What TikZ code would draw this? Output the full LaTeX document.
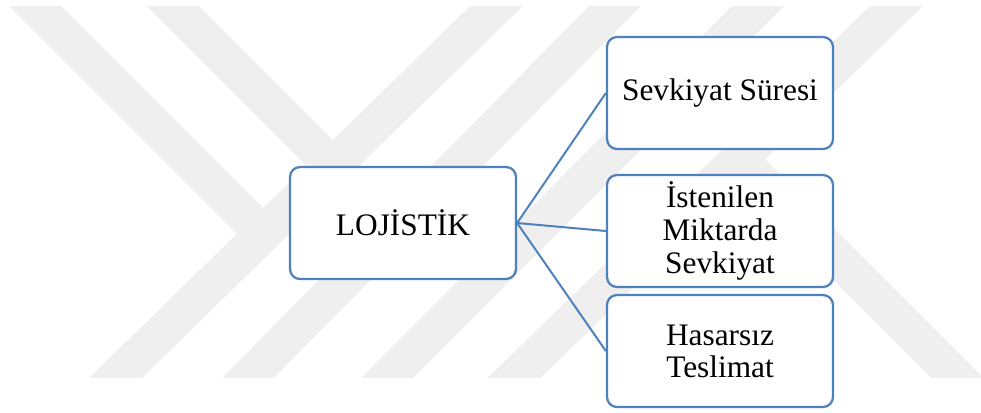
\documentclass[tikz,border=0pt]{standalone}
\usepackage{fontspec}
\setmainfont{Liberation Serif}
\usetikzlibrary{calc}
\definecolor{boxblue}{RGB}{79,129,189}
\definecolor{markgray}{RGB}{239,239,239}
\begin{document}
\begin{tikzpicture}[x=0.75pt,y=-0.75pt,
  itembox/.style={draw=boxblue, line width=1.7pt, fill=white,
    rounded corners=7.5pt, minimum width=169.5pt, minimum height=84pt,
    align=center, inner sep=0pt,
    font=\fontsize{23.5}{24.8}\selectfont},
  link/.style={draw=boxblue, line width=1.5pt},
  band/.style={draw=markgray, line width=27.6pt, line cap=butt}]
\useasboundingbox (0,0) rectangle (981,412);
\fill[white] (0,0) rectangle (981,412);

% faint emblem in the background
\begin{scope}
  \clip (0,6) rectangle (981,377);
  \coordinate (l1t) at (496.5,6); \coordinate (l1b) at (116.5,377);
  \coordinate (l2t) at (615,6);   \coordinate (l2b) at (249,377);
  \coordinate (l3t) at (758,6);   \coordinate (l3b) at (388,377);
  \coordinate (l4t) at (896.5,6); \coordinate (l4b) at (515,377);
  \foreach \n in {1,2,3,4}
    \draw[band] ($(l\n t)!-0.12!(l\n b)$) -- ($(l\n b)!-0.12!(l\n t)$);
  \coordinate (at) at (2,-27);      \coordinate (ae) at (263,234);
  \coordinate (bt) at (139.5,-27);  \coordinate (be) at (395.3,228.8);
  \coordinate (kb) at (1002.5,423); \coordinate (ke) at (738.8,159.3);
  \draw[band] (at) -- (ae);
  \draw[band] (bt) -- (be);
  \draw[band] (kb) -- (ke);
\end{scope}

% boxes
\node[itembox] (root) at (403,223) {LOJİSTİK};
\node[itembox] (c1) at (720,93) {Sevkiyat Süresi};
\node[itembox] (c2) at (720,231) {İstenilen\\Miktarda\\Sevkiyat};
\node[itembox, font=\fontsize{23.5}{24}\selectfont] (c3) at (720,351) {Hasarsız\\Teslimat};

% connectors
\draw[link] (root.east) -- (c1.west);
\draw[link] (root.east) -- (c2.west);
\draw[link] (root.east) -- (c3.west);
\end{tikzpicture}
\end{document}
